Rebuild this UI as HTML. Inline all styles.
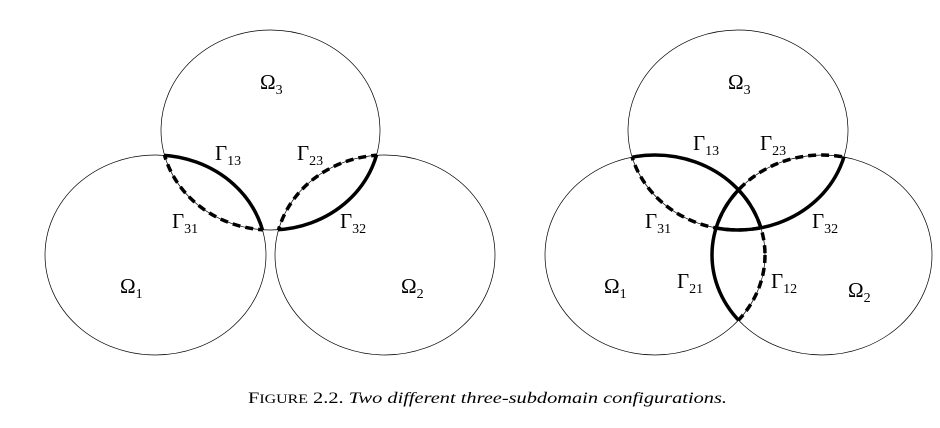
<!DOCTYPE html>
<html><head><meta charset="utf-8"><style>
html,body{margin:0;padding:0;background:#fff;width:940px;height:428px;overflow:hidden}
svg{display:block}
text{font-family:"Liberation Serif",serif;fill:#000}
</style></head><body>
<svg width="940" height="428" viewBox="0 0 940 428">
<defs>
<clipPath id="L3"><ellipse cx="270.5" cy="130" rx="109.5" ry="100"/></clipPath>
<clipPath id="L1"><ellipse cx="155.5" cy="255" rx="110.5" ry="100"/></clipPath>
<clipPath id="L2"><ellipse cx="385" cy="255" rx="110" ry="100"/></clipPath>
<clipPath id="R3"><ellipse cx="738" cy="130" rx="110" ry="100"/></clipPath>
<clipPath id="R1"><ellipse cx="655" cy="255" rx="110" ry="100"/></clipPath>
<clipPath id="R2"><ellipse cx="822" cy="255" rx="110" ry="100"/></clipPath>
</defs>
<g fill="none" stroke="#000">
<ellipse cx="270.5" cy="130" rx="109.5" ry="100" stroke-width="0.7"/>
<ellipse cx="155.5" cy="255" rx="110.5" ry="100" stroke-width="0.7"/>
<ellipse cx="385" cy="255" rx="110" ry="100" stroke-width="0.7"/>
<ellipse clip-path="url(#L1)" cx="270.5" cy="130" rx="109.5" ry="100" stroke-width="3.5" stroke-dasharray="8 5"/>
<ellipse clip-path="url(#L3)" cx="385" cy="255" rx="110" ry="100" stroke-width="3.5" stroke-dasharray="8 5"/>
<ellipse clip-path="url(#L3)" cx="155.5" cy="255" rx="110.5" ry="100" stroke-width="3.5"/>
<ellipse clip-path="url(#L2)" cx="270.5" cy="130" rx="109.5" ry="100" stroke-width="3.5"/>
</g>
<g fill="none" stroke="#000">
<ellipse cx="738" cy="130" rx="110" ry="100" stroke-width="0.7"/>
<ellipse cx="655" cy="255" rx="110" ry="100" stroke-width="0.7"/>
<ellipse cx="822" cy="255" rx="110" ry="100" stroke-width="0.7"/>
<ellipse clip-path="url(#R1)" cx="738" cy="130" rx="110" ry="100" stroke-width="3.5" stroke-dasharray="8 5"/>
<ellipse clip-path="url(#R3)" cx="822" cy="255" rx="110" ry="100" stroke-width="3.5" stroke-dasharray="8 5"/>
<ellipse clip-path="url(#R2)" cx="655" cy="255" rx="110" ry="100" stroke-width="3.5" stroke-dasharray="8 5"/>
<ellipse clip-path="url(#R3)" cx="655" cy="255" rx="110" ry="100" stroke-width="3.5"/>
<ellipse clip-path="url(#R2)" cx="738" cy="130" rx="110" ry="100" stroke-width="3.5"/>
<ellipse clip-path="url(#R1)" cx="822" cy="255" rx="110" ry="100" stroke-width="3.5"/>
</g>
<g font-size="21">
<text x="260" y="89">Ω<tspan font-size="14" dy="5">3</tspan></text>
<text x="215" y="160">Γ<tspan font-size="14" dy="5">13</tspan></text>
<text x="297" y="160">Γ<tspan font-size="14" dy="5">23</tspan></text>
<text x="172" y="228">Γ<tspan font-size="14" dy="5">31</tspan></text>
<text x="340" y="228">Γ<tspan font-size="14" dy="5">32</tspan></text>
<text x="120" y="293">Ω<tspan font-size="14" dy="5">1</tspan></text>
<text x="401" y="293">Ω<tspan font-size="14" dy="5">2</tspan></text>
<text x="728" y="89">Ω<tspan font-size="14" dy="5">3</tspan></text>
<text x="693" y="150">Γ<tspan font-size="14" dy="5">13</tspan></text>
<text x="760" y="150">Γ<tspan font-size="14" dy="5">23</tspan></text>
<text x="645" y="228">Γ<tspan font-size="14" dy="5">31</tspan></text>
<text x="812" y="228">Γ<tspan font-size="14" dy="5">32</tspan></text>
<text x="677" y="288">Γ<tspan font-size="14" dy="5">21</tspan></text>
<text x="771" y="288">Γ<tspan font-size="14" dy="5">12</tspan></text>
<text x="604" y="293">Ω<tspan font-size="14" dy="5">1</tspan></text>
<text x="848" y="297">Ω<tspan font-size="14" dy="5">2</tspan></text>
</g>
<text x="248" y="403" font-size="16" textLength="479" lengthAdjust="spacingAndGlyphs">F<tspan font-size="12.5">IGURE</tspan> 2.2. <tspan font-style="italic">Two different three-subdomain configurations.</tspan></text>
</svg>
</body></html>
